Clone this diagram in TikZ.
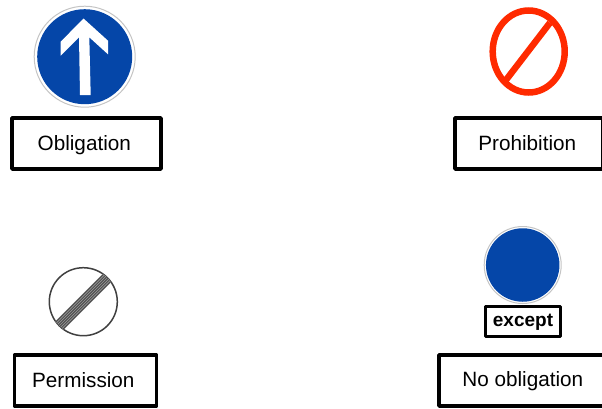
\documentclass[tikz,border=0pt]{standalone}
\usepackage{fontspec}
\setmainfont{Liberation Sans}
\usepackage{xcolor}
\usetikzlibrary{shapes.geometric, calc}
\definecolor{signblue}{HTML}{0546A8}
\definecolor{signred}{HTML}{FF2A00}
\definecolor{signrim}{HTML}{C4C4C4}

\begin{document}
\begin{tikzpicture}[
    x=1pt, y=-1pt,
    signbox/.style={draw, line width=3.5pt, rectangle, inner sep=0pt,
                    line join=round},
    signtext/.style={inner sep=0pt, anchor=base, font=\fontsize{20.7}{24}\selectfont},
    signrimc/.style={circle, draw=signrim, line width=1pt, inner sep=0pt, outer sep=0pt},
    bluedisc/.style={circle, fill=signblue, inner sep=0pt, outer sep=0pt}
  ]
  \useasboundingbox (0,0) rectangle (602,408);

  % top left
  \node[signrimc, minimum size=101pt] (obrim) at (84.7,56.7) {};
  \node[bluedisc, minimum size=95pt] (obsign) at (84.7,56.7) {};
  \fill[white] (83.5,18.5) -- (108,40.7) -- (108,54.3) -- (89.3,37.3)
    -- (90.7,95) -- (80,95) -- (79,37.3) -- (60.7,55.7) -- (60.7,41.7) -- cycle;
  \node[signbox, minimum width=149pt, minimum height=51pt] (obbox) at (86.5,143.5) {};
  \node[signtext] (oblabel) at (84.3,150) {Obligation};

  % top right
  \node[ellipse, draw=signred, line width=6.5pt, minimum width=72pt, minimum height=82pt,
        inner sep=0pt, outer sep=0pt] (prsign) at (528.7,51.5) {};
  \draw[signred, line width=6.5pt] (506,80) -- (550,22.7);
  \node[signbox, minimum width=148pt, minimum height=51pt] (prbox) at (529,143.5) {};
  \node[signtext] (prlabel) at (527.3,150) {Prohibition};

  % bottom left
  \node[circle, draw=black!75, line width=1.5pt, minimum size=68pt,
        inner sep=0pt, outer sep=0pt] (pesign) at (83.3,301.7) {};
  \begin{scope}
    \clip (83.3,301.7) circle (34pt);
    \fill[black!40] ($(83.3,301.7)+(-50-4.2,50-4.2)$) -- ($(83.3,301.7)+(50-4.2,-50-4.2)$)
      -- ($(83.3,301.7)+(50+4.2,-50+4.2)$) -- ($(83.3,301.7)+(-50+4.2,50+4.2)$) -- cycle;
    \foreach \i in {-5,-3,...,5} {
      \draw[black!70, line width=1pt]
        ($(83.3,301.7)+(\i*0.707-50,\i*0.707+50)$) -- ($(83.3,301.7)+(\i*0.707+50,\i*0.707-50)$);
    }
  \end{scope}
  \node[signbox, minimum width=142pt, minimum height=51pt] (pebox) at (85.5,380.5) {};
  \node[signtext] (pelabel) at (83.3,387) {Permission};

  % bottom right
  \node[signrimc, minimum size=77pt] (norim) at (522.7,265) {};
  \node[bluedisc, minimum size=73.5pt] (nosign) at (522.7,265) {};
  \node[signbox, line width=3pt, minimum width=75pt, minimum height=30pt] (exbox) at (523,321.5) {};
  \node[inner sep=0pt, anchor=base, font=\fontsize{19}{22}\selectfont\bfseries] (exlabel) at (523,326.6) {except};
  \node[signbox, minimum width=170pt, minimum height=51pt] (nobox) at (524,380.5) {};
  \node[signtext] (nolabel) at (522.8,386.7) {No obligation};
\end{tikzpicture}
\end{document}
